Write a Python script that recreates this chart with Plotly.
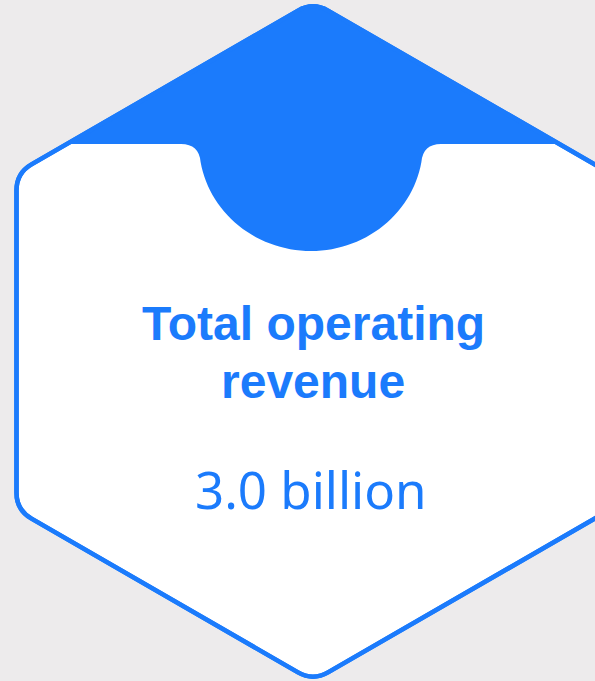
import math
import plotly.graph_objects as go

# Content of the KPI tile
metric_lines = ["Total operating", "revenue"]
metric_value = 3.0
metric_unit = "billion"

BLUE = "#1B7BFC"
BG = "#EDEBEC"
W, H = 595, 681

# Hexagon geometry (pointy-top), in pixel-like axis units
CX = 313
LEFT_X, RIGHT_X = 16.5, 609.5
TOP_Y, UPPER_Y, LOWER_Y, BOT_Y = 2, 173, 510, 681
CORNER_R = 30

# Inner white panel top edge and half-round notch
BAND_Y = 144
NOTCH_CX, NOTCH_A, NOTCH_B = 311, 112, 107
FILLET = 18

hex_pts = [
    (CX, TOP_Y), (RIGHT_X, UPPER_Y), (RIGHT_X, LOWER_Y),
    (CX, BOT_Y), (LEFT_X, LOWER_Y), (LEFT_X, UPPER_Y),
]


def corner(p0, p1, p2, r):
    """Tangent points for rounding corner p1 between edges p0-p1 and p1-p2."""
    u1 = (p0[0] - p1[0], p0[1] - p1[1])
    u2 = (p2[0] - p1[0], p2[1] - p1[1])
    l1 = math.hypot(*u1)
    l2 = math.hypot(*u2)
    u1 = (u1[0] / l1, u1[1] / l1)
    u2 = (u2[0] / l2, u2[1] / l2)
    cosang = u1[0] * u2[0] + u1[1] * u2[1]
    theta = math.acos(max(-1, min(1, cosang)))
    d = r / math.tan(theta / 2)
    a = (p1[0] + u1[0] * d, p1[1] + u1[1] * d)
    b = (p1[0] + u2[0] * d, p1[1] + u2[1] * d)
    return a, b


def fmt(p):
    return f"{p[0]:.2f},{p[1]:.2f}"


def rounded_polygon(pts, r):
    n = len(pts)
    parts = []
    for i in range(n):
        a, b = corner(pts[i - 1], pts[i], pts[(i + 1) % n], r)
        parts.append(("M " if i == 0 else "L ") + fmt(a))
        parts.append(f"Q {fmt(pts[i])} {fmt(b)}")
    parts.append("Z")
    return " ".join(parts)


hex_path = rounded_polygon(hex_pts, CORNER_R)

# Blue cap: top of hexagon down to the band line, plus the round notch
slope = (UPPER_Y - TOP_Y) / (CX - LEFT_X)
xl = LEFT_X + (UPPER_Y - BAND_Y) / slope
xr = RIGHT_X - (UPPER_Y - BAND_Y) / slope
ta, tb = corner(hex_pts[5], hex_pts[0], hex_pts[1], CORNER_R)

th0 = math.asin(FILLET / NOTCH_B)
n_seg = 60
arc = []
for k in range(n_seg + 1):
    t = th0 + (math.pi - 2 * th0) * k / n_seg
    arc.append((NOTCH_CX + NOTCH_A * math.cos(t), BAND_Y + NOTCH_B * math.sin(t)))

cap = [f"M {fmt((xl, BAND_Y))}", f"L {fmt(ta)}", f"Q {fmt(hex_pts[0])} {fmt(tb)}",
       f"L {fmt((xr, BAND_Y))}",
       f"L {fmt((NOTCH_CX + NOTCH_A + FILLET, BAND_Y))}",
       f"Q {fmt((NOTCH_CX + NOTCH_A, BAND_Y))} {fmt(arc[0])}"]
cap += [f"L {fmt(p)}" for p in arc[1:]]
cap += [f"Q {fmt((NOTCH_CX - NOTCH_A, BAND_Y))} {fmt((NOTCH_CX - NOTCH_A - FILLET, BAND_Y))}",
        "Z"]
cap_path = " ".join(cap)

fig = go.Figure(go.Scatter(x=[], y=[], hoverinfo="skip", showlegend=False))

fig.add_shape(type="path", path=hex_path, xref="x", yref="y",
              fillcolor="white", line=dict(color=BLUE, width=4.5), layer="below")
fig.add_shape(type="path", path=cap_path, xref="x", yref="y",
              fillcolor=BLUE, line=dict(width=0), layer="below")
fig.add_shape(type="path", path=hex_path, xref="x", yref="y",
              fillcolor="rgba(0,0,0,0)", line=dict(color=BLUE, width=4.5), layer="below")

title_font = dict(family="Liberation Sans, Arial, sans-serif", size=48, color=BLUE, weight="bold")
for text, y in zip(metric_lines, [323, 381]):
    fig.add_annotation(x=CX, y=y, xref="x", yref="y", text=text, showarrow=False,
                       xanchor="center", yanchor="middle", font=title_font)

fig.add_annotation(x=311, y=489, xref="x", yref="y",
                   text=f"{metric_value:.1f} {metric_unit}", showarrow=False,
                   xanchor="center", yanchor="middle",
                   font=dict(family="Noto Sans, Open Sans, sans-serif", size=51, color=BLUE))

fig.update_xaxes(range=[0, W], visible=False, fixedrange=True)
fig.update_yaxes(range=[H, 0], visible=False, fixedrange=True)
fig.update_layout(width=W, height=H, autosize=False,
                  margin=dict(l=0, r=0, t=0, b=0, pad=0),
                  paper_bgcolor=BG, plot_bgcolor=BG, hovermode=False)

fig.write_html("out.html", config={"displayModeBar": False})
